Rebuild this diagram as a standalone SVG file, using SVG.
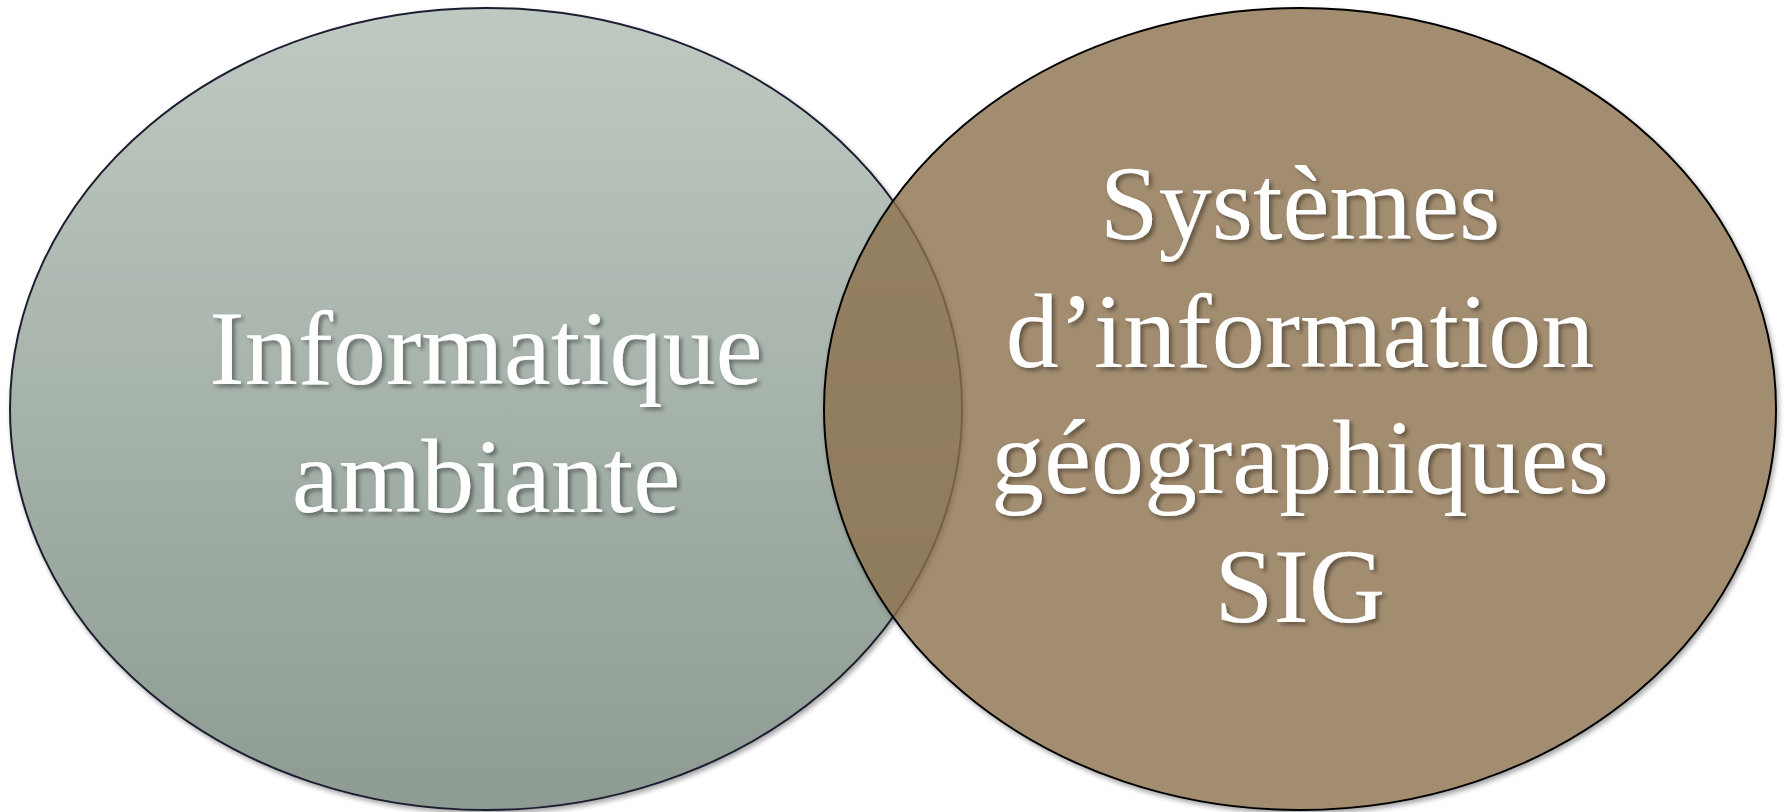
<svg xmlns="http://www.w3.org/2000/svg" width="1787" height="812" viewBox="0 0 1787 812">
  <style>
    .lbl { font-family: "Liberation Serif", "Times New Roman", serif; font-size: 106px; fill: #ffffff; text-anchor: middle; filter: url(#tshadow); }
  </style>
  <defs>
    <linearGradient id="gLeft" x1="0" y1="0" x2="0" y2="1">
      <stop offset="0" stop-color="#bec9c2"/>
      <stop offset="1" stop-color="#8d9b92"/>
    </linearGradient>
    <filter id="eshadow" x="-10%" y="-10%" width="120%" height="120%">
      <feGaussianBlur in="SourceAlpha" stdDeviation="2.5"/>
      <feOffset dx="2" dy="3" result="b"/>
      <feComponentTransfer><feFuncA type="linear" slope="0.35"/></feComponentTransfer>
      <feMerge><feMergeNode/><feMergeNode in="SourceGraphic"/></feMerge>
    </filter>
    <filter id="blurOnly" x="-10%" y="-10%" width="120%" height="120%">
      <feGaussianBlur stdDeviation="2.5"/>
    </filter>
    <mask id="outsideRight" maskUnits="userSpaceOnUse" x="0" y="0" width="1787" height="812">
      <rect x="0" y="0" width="1787" height="812" fill="#ffffff"/>
      <ellipse cx="1300" cy="409" rx="476" ry="401" fill="#000000"/>
    </mask>
    <filter id="tshadow" x="-10%" y="-20%" width="120%" height="140%">
      <feGaussianBlur in="SourceAlpha" stdDeviation="2"/>
      <feOffset dx="3" dy="3"/>
      <feComponentTransfer><feFuncA type="linear" slope="0.4"/></feComponentTransfer>
      <feMerge><feMergeNode/><feMergeNode in="SourceGraphic"/></feMerge>
    </filter>
  </defs>
  <rect width="1787" height="812" fill="#ffffff"/>
  <g id="connectors"/>
  <g id="node-left">
    <ellipse cx="486" cy="409" rx="476" ry="401" fill="url(#gLeft)" stroke="#1e1e30" stroke-width="2" filter="url(#eshadow)"/>
    <text class="lbl" x="486" y="384">Informatique</text>
    <text class="lbl" x="486" y="512">ambiante</text>
  </g>
  <g id="node-right">
    <g mask="url(#outsideRight)">
      <ellipse cx="1302" cy="412" rx="477" ry="402" fill="#000000" fill-opacity="0.35" filter="url(#blurOnly)"/>
    </g>
    <ellipse cx="1300" cy="409" rx="476" ry="401" fill="#8c704c" fill-opacity="0.8" stroke="#000000" stroke-width="2"/>
    <text class="lbl" x="1300" y="239">Systèmes</text>
    <text class="lbl" x="1300" y="367">d’information</text>
    <text class="lbl" x="1300" y="493">géographiques</text>
    <text class="lbl" x="1300" y="622">SIG</text>
  </g>
</svg>
